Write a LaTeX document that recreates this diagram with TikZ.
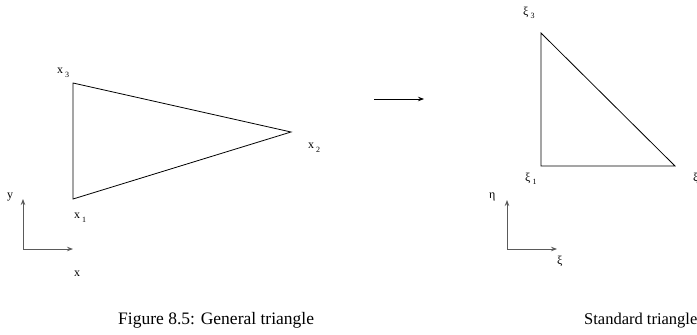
\documentclass[tikz,border=0pt]{standalone}
\usepackage{fontspec}
\setmainfont{Liberation Serif}
\usetikzlibrary{arrows.meta}
\definecolor{axisgray}{RGB}{90,90,90}
\newcommand{\vlab}[2]{#1\,\raisebox{-3.5pt}{\fontsize{8}{9}\selectfont #2}}

\begin{document}
\begin{tikzpicture}[x=1pt,y=-1pt,every node/.style={font=\fontsize{12}{14}\selectfont,inner sep=0pt,anchor=base west},edge/.style={line width=.8pt},axis/.style={draw=axisgray,line width=.8pt,-{Stealth[length=6pt,width=4.5pt,inset=2pt]}},caption/.style={font=\fontsize{17.5}{20}\selectfont}]
        \useasboundingbox (0,0) rectangle (697,335);
        % general triangle
        \coordinate (x1) at (73,199);
        \coordinate (x2) at (291,132);
        \coordinate (x3) at (73,83);
        \draw[edge] (x1)--(x2)--(x3)--cycle;
        \node (lx3) at (57,73.5) {\vlab{x}{3}};
        \node (lx2) at (308,148.5) {\vlab{x}{2}};
        \node (lx1) at (74,218.5) {\vlab{x}{1}};
        % x-y axes
        \coordinate (o1) at (23,249);
        \coordinate (ya) at (23,199);
        \coordinate (xa) at (73,249);
        \draw[axis] (o1)--(ya);
        \draw[axis] (o1)--(xa);
        \node (ly) at (7,198) {y};
        \node (lx) at (74,276) {x};
        % mapping arrow
        \coordinate (m1) at (374,99);
        \coordinate (m2) at (424,99);
        \draw[axis,draw=black] (m1)--(m2);
        % standard triangle
        \coordinate (s1) at (541,166);
        \coordinate (s2) at (675,166);
        \coordinate (s3) at (541,33);
        \draw[edge] (s1)--(s2)--(s3)--cycle;
        \node (ls3) at (523,15) {\vlab{ξ}{3}};
        \node (ls1) at (525,181) {\vlab{ξ}{1}};
        \node (ls2) at (693,181) {\vlab{ξ}{2}};
        % xi-eta axes
        \coordinate (o2) at (507,249);
        \coordinate (ea) at (507,200);
        \coordinate (xia) at (557,249);
        \draw[axis] (o2)--(ea);
        \draw[axis] (o2)--(xia);
        \node (leta) at (489,198) {η};
        \node (lxi) at (557,264) {ξ};
        % captions
        \node[caption] (cap1) at (118,324) {Figure 8.5: General triangle};
        \node[caption,font=\fontsize{16.5}{19}\selectfont] (cap2) at (584,324) {Standard triangle};
      \end{tikzpicture}
\end{document}
